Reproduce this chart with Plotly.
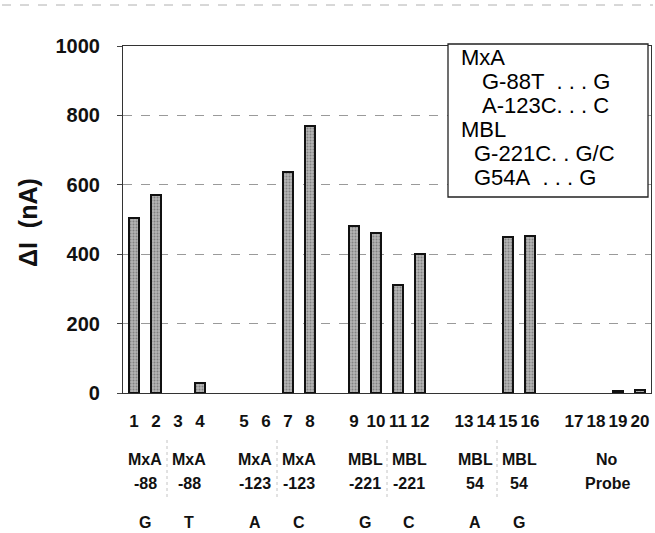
import plotly.graph_objects as go

# ---- data ----
samples = [str(i) for i in range(1, 21)]
delta_i = [505, 571, 0, 30, 0, 0, 637, 769, 480, 462, 311, 400, 0, 0, 450, 452, 0, 0, 7, 9]
group_line1 = ["MxA", "MxA", "MxA", "MxA", "MBL", "MBL", "MBL", "MBL", "No"]
group_line2 = ["-88", "-88", "-123", "-123", "-221", "-221", "54", "54", "Probe"]
alleles = ["G", "T", "A", "C", "G", "C", "A", "G", ""]
legend_lines = ["MxA", "G-88T\u00a0 . . . G", "A-123C. . . C", "MBL", "G-221C. . G/C", "G54A\u00a0 . . . G"]
legend_x_px = [460, 481, 481, 460, 473, 473]
y_ticks = [0, 200, 400, 600, 800, 1000]

# position of each bar: blocks of 4 with one empty slot between blocks
slots = [i + (i - 1) // 4 for i in range(1, 21)]

FONT = "Liberation Sans, Arial, sans-serif"

fig = go.Figure()
fig.add_trace(go.Bar(
    x=slots, y=delta_i, width=0.45,
    marker=dict(color="#9c9c9c",
                line=dict(color="#111", width=[2 if v > 0 else 0 for v in delta_i]),
                pattern=dict(shape=".", fgcolor="#505050", bgcolor="#b4b4b4", size=3, solidity=0.35)),
    showlegend=False, hoverinfo="skip",
))

fig.update_layout(
    width=655, height=533,
    margin=dict(l=123, r=4, t=46, b=140),
    paper_bgcolor="white", plot_bgcolor="white",
    font=dict(family=FONT, color="#111"),
    xaxis=dict(range=[0.5, 24.5], tickvals=slots, ticktext=["<b>%s</b>" % s for s in samples],
               ticks="", tickfont=dict(size=17), showgrid=False, zeroline=False,
               showline=True, linecolor="#333", linewidth=1.2, mirror=True,
               ticklabelstandoff=12),
    yaxis=dict(range=[0, 1000], tickvals=y_ticks, ticktext=["<b>%d</b>" % t for t in y_ticks],
               ticks="outside", ticklen=5, tickcolor="#444", tickfont=dict(size=20),
               showgrid=True, gridcolor="#9a9a9a", griddash="dash", gridwidth=1,
               zeroline=False, showline=True, linecolor="#333", linewidth=1.2,
               mirror=True, ticklabelstandoff=13),
    bargap=0,
)

def px_to_paper_y(ypx):
    return (393 - ypx) / 347.0

def px_to_paper_x(xpx):
    return (xpx - 123) / 528.0

def slot_to_paper_x(s):
    return (s - 0.5) / 24.0

annotations = []
# y-axis title
annotations.append(dict(text="<b>\u0394I\u00a0\u00a0(nA)</b>", textangle=-90, xref="paper", yref="paper",
                        x=px_to_paper_x(28), y=0.49, xanchor="center", yanchor="middle",
                        showarrow=False, font=dict(size=25, family=FONT)))

# group labels (pairs of bars; last group spans four)
for g in range(9):
    if g < 8:
        centre = (slots[2 * g] + slots[2 * g + 1]) / 2
    else:
        centre = sum(slots[16:20]) / 4
    xp = slot_to_paper_x(centre)
    annotations.append(dict(text="<b>%s</b>" % group_line1[g], xref="paper", yref="paper", x=xp,
                            y=px_to_paper_y(459), xanchor="center", yanchor="middle",
                            showarrow=False, font=dict(size=16)))
    annotations.append(dict(text="<b>%s</b>" % group_line2[g], xref="paper", yref="paper", x=xp,
                            y=px_to_paper_y(483), xanchor="center", yanchor="middle",
                            showarrow=False, font=dict(size=16)))
    if alleles[g]:
        annotations.append(dict(text="<b>%s</b>" % alleles[g], xref="paper", yref="paper", x=xp,
                                y=px_to_paper_y(522), xanchor="center", yanchor="middle",
                                showarrow=False, font=dict(size=16)))

# legend box text
line_y = [57, 81, 105, 129, 153, 177]
for k, t in enumerate(legend_lines):
    annotations.append(dict(text=t, xref="paper", yref="paper", x=px_to_paper_x(legend_x_px[k]),
                            y=px_to_paper_y(line_y[k]), xanchor="left", yanchor="middle",
                            showarrow=False, borderpad=0, font=dict(size=22, color="#000")))

fig.update_layout(annotations=annotations)

# legend frame
fig.add_shape(type="rect", xref="paper", yref="paper",
              x0=px_to_paper_x(448), x1=px_to_paper_x(648),
              y0=px_to_paper_y(197), y1=px_to_paper_y(44),
              line=dict(color="#222", width=1.3), fillcolor="white", layer="above")

# faint category separators below the axis (between bar pairs)
for g in range(8):
    if g % 2 == 0:
        sep = (slots[2 * g + 1] + slots[2 * g + 2]) / 2
        fig.add_shape(type="line", xref="paper", yref="paper",
                      x0=slot_to_paper_x(sep), x1=slot_to_paper_x(sep),
                      y0=px_to_paper_y(440), y1=px_to_paper_y(500),
                      line=dict(color="#c4c4c4", width=1, dash="dot"))

# scanned page edge at the top
fig.add_shape(type="line", xref="paper", yref="paper",
              x0=px_to_paper_x(2), x1=px_to_paper_x(653),
              y0=px_to_paper_y(5), y1=px_to_paper_y(5),
              line=dict(color="#b0b0b0", width=1, dash="dash"))

fig.write_html("out.html")
